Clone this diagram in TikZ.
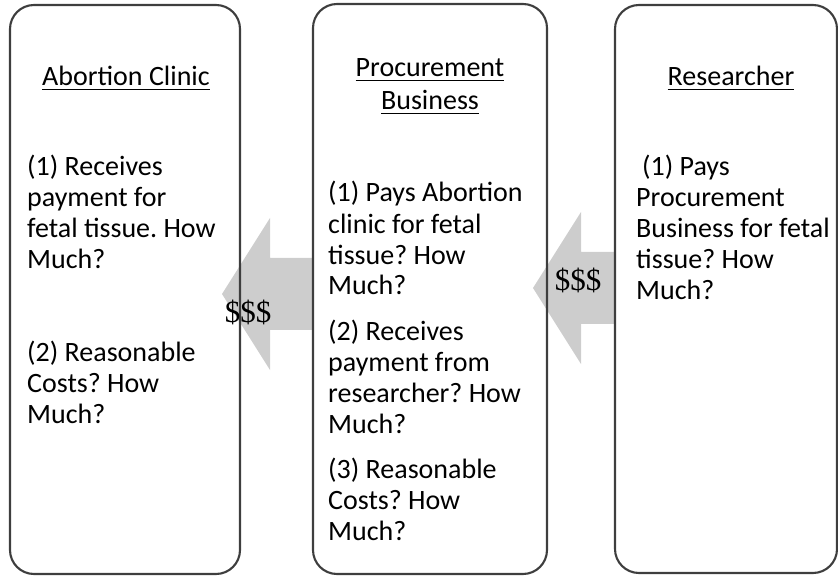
\documentclass[tikz,border=0pt]{standalone}
\usepackage{fontspec}
\setmainfont{Carlito}
\newfontfamily\cashfont{Liberation Serif}
\usepackage{tikz}
\usetikzlibrary{calc,backgrounds}
\definecolor{frame}{HTML}{3E3E3E}
\definecolor{flow}{HTML}{CDCDCD}
\newcommand{\hdl}[1]{\setbox0\hbox{#1}\rlap{\rule[-4pt]{\wd0}{1.4pt}}\box0}
\tikzset{panel/.style={draw=frame,line width=2.1pt,rounded corners=24pt,inner sep=0pt},
  ttl/.style={font=\fontsize{28}{33}\selectfont,align=center,anchor=base,inner sep=0pt},
  txt/.style={font=\fontsize{28}{31}\selectfont,align=left,anchor=base west,inner sep=0pt},
  cash/.style={font=\cashfont\fontsize{31}{31}\selectfont,inner sep=0pt}}

\begin{document}
\frenchspacing
\begin{tikzpicture}[x=1pt,y=-1pt]
\useasboundingbox (0,0) rectangle (838,577);
% the three parties
\node[panel,minimum width=230pt,minimum height=569pt] (clinic) at (125,289.5) {};
\node[panel,minimum width=234pt,minimum height=570pt] (procure) at (430,289) {};
\node[panel,minimum width=222pt,minimum height=568pt] (research) at (726,289) {};
% money flows right to left, behind the panels
\begin{scope}[on background layer]
\foreach \src/\tip/\ay in {procure/222/294,research/533/288}{
  \fill[flow] let \p1=(\src.west) in (\tip,\ay) -- ++(48,-76) -- ++(0,40) -- (\x1,\ay-36)
    -- (\x1,\ay+36) -- (\tip+48,\ay+36) -- (\tip+48,\ay+76) -- cycle;}
\end{scope}
\node[cash] (cashA) at (248,312) {\$\$\$};
\node[cash] (cashB) at (578,280) {\$\$\$};
% titles (base = last line)
\node[ttl] (clinicT) at (126,86) {\hdl{Abortion Clinic}};
\node[ttl] (procureT) at (430,110) {\hdl{Procurement}\\\hdl{Business}};
\node[ttl] (researchT) at (731,86) {\hdl{Researcher}};
% questions (base = last line)
\node[txt] (clinicA) at (27,269) {(1) Receives\\payment for\\fetal tissue. How\\Much?};
\node[txt] (clinicB) at (27,423) {(2) Reasonable\\Costs? How\\Much?};
\node[txt] (procureA) at (328,295) {(1) Pays Abortion\\clinic for fetal\\tissue? How\\Much?};
\node[txt] (procureB) at (328,433) {(2) Receives\\payment from\\researcher? How\\Much?};
\node[txt] (procureC) at (328,540) {(3) Reasonable\\Costs? How\\Much?};
\node[txt] (researchA) at (636,300) {\hspace*{6pt}(1) Pays\\Procurement\\Business for fetal\\tissue? How\\Much?};
\end{tikzpicture}
\end{document}
